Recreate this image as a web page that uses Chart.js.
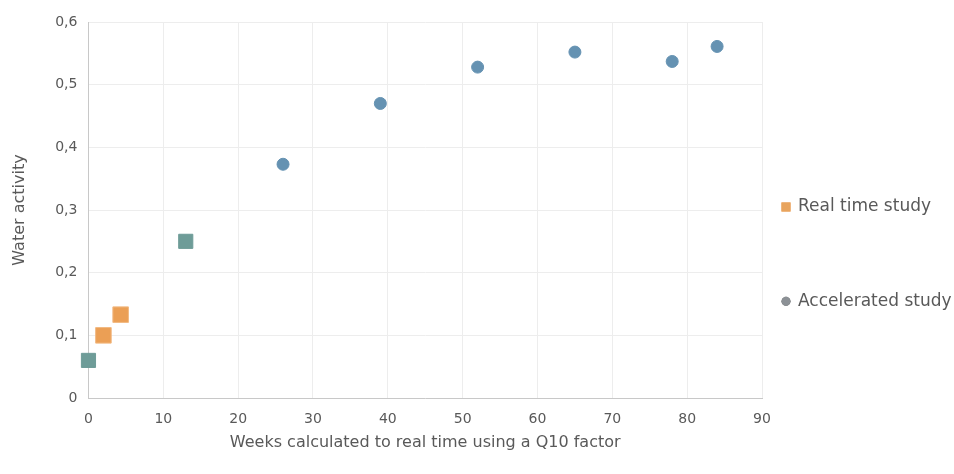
<!DOCTYPE html>
<html>
<head>
<meta charset="utf-8">
<script src="https://cdn.jsdelivr.net/npm/chart.js@4/dist/chart.umd.min.js"></script>
<style>
  html, body { margin: 0; padding: 0; background: #fff; }
</style>
</head>
<body>
<canvas id="waterChart" width="954" height="474"></canvas>
<script>
// Water activity data
const realTimeWeeks = [2, 4.3];
const realTimeAw = [0.1, 0.133];
const acceleratedWeeks = [0, 13, 26, 39, 52, 65, 78, 84];
const acceleratedAw = [0.06, 0.25, 0.373, 0.47, 0.528, 0.552, 0.537, 0.561];
const xTicks = [0, 10, 20, 30, 40, 50, 60, 70, 80, 90];
const yTicks = [0, 0.1, 0.2, 0.3, 0.4, 0.5, 0.6];

const toPoints = (xs, ys) => xs.map((x, i) => ({ x: x, y: ys[i] }));

const textColor = '#595959';
const tickFont = { family: 'DejaVu Sans', size: 14 };
const titleFont = { family: 'DejaVu Sans', size: 16 };

// first two accelerated points are drawn as squares in the original
const accStyle = acceleratedWeeks.map((w, i) => (i < 2 ? 'rect' : 'circle'));
const accColor = acceleratedWeeks.map((w, i) => (i < 2 ? '#6e9c98' : '#6592b2'));
const accRadius = acceleratedWeeks.map((w, i) => (i < 2 ? 10 : 6));

// legend drawn at the right, spaced like the original
const legendItems = [
    { text: 'Real time study', style: 'rect', color: '#e8a45e', y: 0.492 },
    { text: 'Accelerated study', style: 'circle', color: '#8c9196', y: 0.743 }
];
const sideLegend = {
    id: 'sideLegend',
    afterDraw(chart) {
        const { ctx, chartArea } = chart;
        const h = chartArea.bottom - chartArea.top;
        ctx.save();
        ctx.font = '17px "DejaVu Sans"';
        ctx.textBaseline = 'middle';
        legendItems.forEach(item => {
            const x = chartArea.right + 24;
            const y = chartArea.top + h * item.y;
            Chart.helpers.drawPoint(ctx, {
                pointStyle: item.style,
                radius: item.style === 'rect' ? 6.4 : 4.5,
                borderWidth: 0
            }, x, y);
            ctx.fillStyle = item.color;
            ctx.fill();
            ctx.fillStyle = textColor;
            ctx.fillText(item.text, x + 12, y);
        });
        ctx.restore();
    }
};

const ctx = document.getElementById('waterChart').getContext('2d');
new Chart(ctx, {
    type: 'scatter',
    data: {
        datasets: [{
            label: 'Real time study',
            data: toPoints(realTimeWeeks, realTimeAw),
            pointStyle: 'rect',
            pointRadius: 11,
            backgroundColor: '#eb9f55',
            borderColor: '#f2b982',
            borderWidth: 1
        }, {
            label: 'Accelerated study',
            data: toPoints(acceleratedWeeks, acceleratedAw),
            pointStyle: accStyle,
            pointRadius: accRadius,
            backgroundColor: accColor,
            borderColor: accColor,
            borderWidth: 1
        }]
    },
    plugins: [sideLegend],
    options: {
        responsive: false,
        animation: false,
        clip: false,
        layout: { padding: { left: 10, right: 192, top: 22, bottom: 22 } },
        plugins: {
            legend: { display: false },
            tooltip: { enabled: false }
        },
        scales: {
            x: {
                type: 'linear',
                min: 0,
                max: 90,
                afterBuildTicks: (axis) => { axis.ticks = xTicks.map(v => ({ value: v })); },
                ticks: { color: textColor, font: tickFont, padding: 13 },
                grid: { color: '#ededed', drawTicks: false },
                border: { color: '#c8c8c8' },
                title: {
                    display: true,
                    text: 'Weeks calculated to real time using a Q10 factor',
                    color: textColor,
                    font: titleFont,
                    padding: { top: -8, bottom: 0 }
                }
            },
            y: {
                min: 0,
                max: 0.6,
                afterBuildTicks: (axis) => { axis.ticks = yTicks.map(v => ({ value: v })); },
                ticks: {
                    color: textColor,
                    font: tickFont,
                    padding: 11,
                    callback: (v) => String(Math.round(v * 10) / 10).replace('.', ',')
                },
                grid: { color: '#ededed', drawTicks: false },
                border: { color: '#c8c8c8' },
                title: {
                    display: true,
                    text: 'Water activity',
                    color: textColor,
                    font: titleFont,
                    padding: { top: 0, bottom: 15 }
                }
            }
        }
    }
});
</script>
</body>
</html>
